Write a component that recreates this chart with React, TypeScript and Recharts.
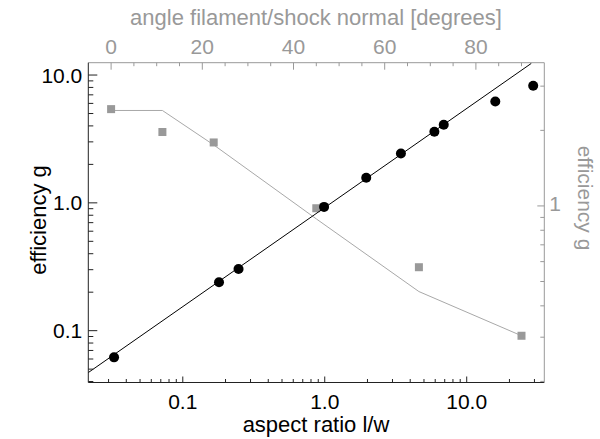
import React from 'react';
import { ComposedChart, Scatter, XAxis, YAxis } from 'recharts';

const FONT = '"Liberation Sans", Arial, Helvetica, sans-serif';
const GRAY = '#999999';
const DARK = '#222222';

// black circles: aspect ratio vs efficiency (bottom / left axes)
const aspectRatio = [0.0328, 0.18, 0.247, 0.989, 1.96, 3.44, 5.92, 6.89, 15.9, 29.4];
const efficiency = [0.0618, 0.239, 0.304, 0.93, 1.57, 2.43, 3.6, 4.08, 6.21, 8.25];
// power-law fit line endpoints
const fitX = [0.0216, 28.5];
const fitY = [0.047, 12.33];
// grey squares: angle vs efficiency (top / right axes)
const angleDeg = [0, 11.25, 22.5, 45, 67.5, 90];
const angleEff = [2.43, 1.97, 1.79, 0.979, 0.57, 0.304];
// grey model curve
const modelAngle = [0, 11.25, 22.5, 45, 67.5, 90];
const modelEff = [2.4, 2.4, 1.75, 0.888, 0.456, 0.304];

// ticks
const bottomTicks = [0.03, 0.04, 0.05, 0.06, 0.07, 0.08, 0.09, 0.1, 0.2, 0.3, 0.4, 0.5, 0.6, 0.7, 0.8, 0.9, 1, 2, 3, 4, 5, 6, 7, 8, 9, 10, 20, 30];
const bottomMajor = [0.1, 1, 10];
const bottomMajorText = ['0.1', '1.0', '10.0'];
const leftTicks = [0.04, 0.05, 0.06, 0.07, 0.08, 0.09, 0.1, 0.2, 0.3, 0.4, 0.5, 0.6, 0.7, 0.8, 0.9, 1, 2, 3, 4, 5, 6, 7, 8, 9, 10];
const leftMajor = [0.1, 1, 10];
const leftMajorText = ['0.1', '1.0', '10.0'];
const topTicks = [0, 5, 10, 15, 20, 25, 30, 35, 40, 45, 50, 55, 60, 65, 70, 75, 80, 85, 90];
const topMajor = [0, 20, 40, 60, 80];
const topMajorText = ['0', '20', '40', '60', '80'];
const rightTicks = [0.2, 0.3, 0.4, 0.5, 0.6, 0.7, 0.8, 0.9, 1, 2, 3];
const rightMajor = [1];
const rightMajorText = ['1'];

const blackData = aspectRatio.map((x, i) => ({ x, y: efficiency[i] }));
const fitData = fitX.map((x, i) => ({ x, y: fitY[i] }));
const grayData = angleDeg.map((x, i) => ({ x, y: angleEff[i] }));
const modelData = modelAngle.map((x, i) => ({ x, y: modelEff[i] }));

const FS = 21;
const TFS = 22;

const majorIndex = (arr: number[], v: number) => arr.findIndex((m) => Math.abs(m - v) < 1e-9);

const BottomTick = (p: any) => {
  const v = p.payload.value;
  const mi = majorIndex(bottomMajor, v);
  const len = mi >= 0 ? 6 : 3.5;
  return (
    <g>
      <line x1={p.x} x2={p.x} y1={p.y} y2={p.y - len} stroke={DARK} strokeWidth={1} />
      {mi >= 0 && (
        <text x={p.x} y={p.y + 26.5} textAnchor="middle" fontSize={FS} fontFamily={FONT} fill="#000">
          {bottomMajorText[mi]}
        </text>
      )}
    </g>
  );
};

const LeftTick = (p: any) => {
  const v = p.payload.value;
  const mi = majorIndex(leftMajor, v);
  const len = mi >= 0 ? 9 : 5;
  return (
    <g>
      <line x1={p.x} x2={p.x + len} y1={p.y} y2={p.y} stroke={DARK} strokeWidth={1} />
      {mi >= 0 && (
        <text x={p.x - 6} y={p.y + 7.5} textAnchor="end" fontSize={FS} fontFamily={FONT} fill="#000">
          {leftMajorText[mi]}
        </text>
      )}
    </g>
  );
};

const TopTick = (p: any) => {
  const v = p.payload.value;
  const mi = majorIndex(topMajor, v);
  const len = mi >= 0 ? 7 : 3.5;
  return (
    <g>
      <line x1={p.x} x2={p.x} y1={p.y} y2={p.y + len} stroke={GRAY} strokeWidth={1} />
      {mi >= 0 && (
        <text x={p.x} y={p.y - 9.2} textAnchor="middle" fontSize={FS} fontFamily={FONT} fill={GRAY}>
          {topMajorText[mi]}
        </text>
      )}
    </g>
  );
};

const RightTick = (p: any) => {
  const v = p.payload.value;
  const mi = majorIndex(rightMajor, v);
  const len = mi >= 0 ? 7 : 4;
  return (
    <g>
      <line x1={p.x} x2={p.x - len} y1={p.y} y2={p.y} stroke={GRAY} strokeWidth={1} />
      {mi >= 0 && (
        <text x={p.x + 5} y={p.y + 5} textAnchor="start" fontSize={FS} fontFamily={FONT} fill={GRAY}>
          {rightMajorText[mi]}
        </text>
      )}
    </g>
  );
};

const Dot = (p: any) => <circle cx={p.cx} cy={p.cy} r={5} fill="#000" />;
const Square = (p: any) => <rect x={p.cx - 4} y={p.cy - 4} width={8} height={8} fill={GRAY} />;
const NoShape = () => <g />;

const BottomTitle = () => (
  <text x={316} y={432} textAnchor="middle" fontSize={TFS} fontFamily={FONT} fill="#000">
    aspect ratio l/w
  </text>
);
const TopTitle = () => (
  <text x={316} y={25} textAnchor="middle" fontSize={TFS} fontFamily={FONT} fill={GRAY}>
    angle filament/shock normal [degrees]
  </text>
);
const LeftTitle = () => (
  <text x={0} y={0} transform="translate(46,220) rotate(-90)" textAnchor="middle" fontSize={TFS} fontFamily={FONT} fill="#000">
    efficiency g
  </text>
);
const RightTitle = () => (
  <text x={0} y={0} transform="translate(578,198) rotate(90)" textAnchor="middle" fontSize={21} fontFamily={FONT} fill={GRAY}>
    efficiency g
  </text>
);

export default function App() {
  return (
    <div style={{ width: 600, height: 439, background: '#fff' }}>
      <style>{'body{margin:0;background:#fff}'}</style>
      <ComposedChart
        width={600}
        height={439}
        margin={{ top: 32.7, right: 25.7, bottom: 26.5, left: 38.3 }}
      >
        <XAxis
          xAxisId="bottom"
          orientation="bottom"
          type="number"
          dataKey="x"
          scale="log"
          domain={[0.0216, 35.2]}
          allowDataOverflow
          ticks={bottomTicks}
          interval={0}
          tickSize={0}
          tickMargin={0}
          tickLine={false}
          tick={<BottomTick />}
          axisLine={{ stroke: DARK, strokeWidth: 1 }}
          height={30}
          label={<BottomTitle />}
        />
        <XAxis
          xAxisId="top"
          orientation="top"
          type="number"
          dataKey="x"
          domain={[-5, 95]}
          allowDataOverflow
          ticks={topTicks}
          interval={0}
          tickSize={0}
          tickMargin={0}
          tickLine={false}
          tick={<TopTick />}
          axisLine={{ stroke: GRAY, strokeWidth: 1 }}
          height={30}
          label={<TopTitle />}
        />
        <YAxis
          yAxisId="left"
          orientation="left"
          type="number"
          dataKey="y"
          scale="log"
          domain={[0.0393, 12.49]}
          allowDataOverflow
          ticks={leftTicks}
          interval={0}
          tickSize={0}
          tickMargin={0}
          tickLine={false}
          tick={<LeftTick />}
          axisLine={{ stroke: DARK, strokeWidth: 1 }}
          width={50}
          label={<LeftTitle />}
        />
        <YAxis
          yAxisId="right"
          orientation="right"
          type="number"
          dataKey="y"
          scale="log"
          domain={[0.198, 3.72]}
          allowDataOverflow
          ticks={rightTicks}
          interval={0}
          tickSize={0}
          tickMargin={0}
          tickLine={false}
          tick={<RightTick />}
          axisLine={{ stroke: GRAY, strokeWidth: 1 }}
          width={30}
          label={<RightTitle />}
        />
        <Scatter
          data={modelData}
          xAxisId="top"
          yAxisId="right"
          line={{ stroke: '#a8a8a8', strokeWidth: 1 }}
          lineType="joint"
          shape={<NoShape />}
          isAnimationActive={false}
        />
        <Scatter data={grayData} xAxisId="top" yAxisId="right" shape={<Square />} isAnimationActive={false} />
        <Scatter
          data={fitData}
          xAxisId="bottom"
          yAxisId="left"
          line={{ stroke: '#000', strokeWidth: 1 }}
          lineType="joint"
          shape={<NoShape />}
          isAnimationActive={false}
        />
        <Scatter data={blackData} xAxisId="bottom" yAxisId="left" shape={<Dot />} isAnimationActive={false} />
      </ComposedChart>
    </div>
  );
}
